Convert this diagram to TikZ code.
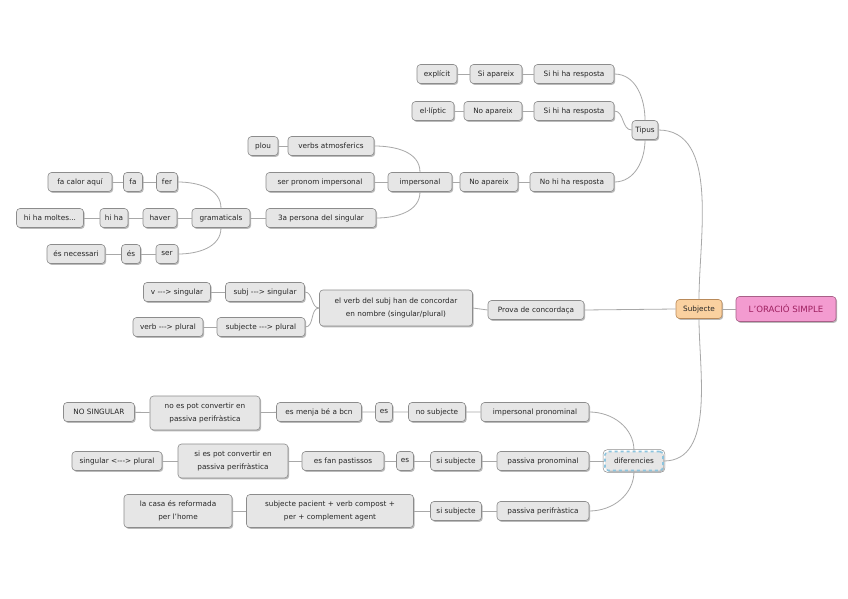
\documentclass[tikz,border=0pt]{standalone}
\usepackage{fontspec}
\setmainfont{DejaVu Sans}
\usetikzlibrary{shadows}
\definecolor{boxfill}{HTML}{E6E6E6}
\definecolor{boxline}{HTML}{8C8C8C}
\definecolor{linecol}{HTML}{A8A8A8}
\definecolor{txtcol}{HTML}{262626}
\definecolor{subjfill}{HTML}{FAD1A0}
\definecolor{subjline}{HTML}{B98A5A}
\definecolor{rootfill}{HTML}{F39BD0}
\definecolor{rootline}{HTML}{A86088}
\definecolor{roottxt}{HTML}{9E2060}
\definecolor{selblue}{HTML}{8CC4DE}
\begin{document}
\begin{tikzpicture}[x=1pt,y=1pt,
  box/.style={draw=boxline, line width=0.6pt, fill=boxfill, rounded corners=3.5pt,
    font=\fontsize{7.3}{13.5}\selectfont, text=txtcol, inner xsep=3pt, inner ysep=2pt,
    minimum height=19pt, align=center,
    drop shadow={shadow xshift=1.2pt, shadow yshift=-1.4pt, opacity=0.45, fill=black!60}},
  conn/.style={draw=linecol, line width=0.8pt}]
\useasboundingbox (0,0) rectangle (848,-599);
\fill[white] (0,0) rectangle (848,-599);

% ---- root
\node[box, fill=rootfill, draw=rootline, text=roottxt, minimum height=25pt, minimum width=100pt,
  font=\fontsize{8.6}{10}\selectfont] (root) at (786,-309) {L'ORACIÓ SIMPLE};
\node[box, fill=subjfill, draw=subjline, minimum width=46pt] (subj) at (699,-309) {Subjecte};

% ---- Tipus
\node[box, minimum width=26pt] (tipus) at (645,-130) {Tipus};
\node[box, minimum width=80pt] (sr1) at (574,-74) {Si hi ha resposta};
\node[box, minimum width=52pt] (siap) at (496,-74) {Si apareix};
\node[box, minimum width=40pt] (expl) at (437,-74) {explícit};
\node[box, minimum width=80pt] (sr2) at (574,-111) {Si hi ha resposta};
\node[box, minimum width=58pt] (noap1) at (493,-111) {No apareix};
\node[box, minimum width=42pt] (elip) at (433,-111) {el·líptic};
\node[box, minimum width=84pt] (nr) at (572,-182) {No hi ha resposta};
\node[box, minimum width=58pt] (noap2) at (489,-182) {No apareix};
\node[box, minimum width=64pt] (imp) at (420,-182) {impersonal};

\node[box, minimum width=86pt] (va) at (331,-146) {verbs atmosferics};
\node[box, minimum width=30pt] (plou) at (263,-146) {plou};
\node[box, minimum width=108pt] (spi) at (320,-182) {ser pronom impersonal};
\node[box, minimum width=110pt] (tp) at (321,-218) {3a persona del singular};
\node[box, minimum width=58pt] (gram) at (221,-218) {gramaticals};

\node[box, minimum width=21pt] (fer) at (167,-182) {fer};
\node[box, minimum width=19pt] (fa) at (133,-182) {fa};
\node[box, minimum width=64pt] (facal) at (80,-182) {fa calor aquí};
\node[box, minimum width=34pt] (haver) at (160,-218) {haver};
\node[box, minimum width=28pt] (hiha) at (114,-218) {hi ha};
\node[box, minimum width=67pt] (himol) at (50,-218) {hi ha moltes...};
\node[box, minimum width=22pt] (ser) at (167,-254) {ser};
\node[box, minimum width=19pt] (es1) at (131,-254) {és};
\node[box, minimum width=58pt] (esnec) at (76,-254) {és necessari};

% ---- Prova de concordança
\node[box, minimum width=96pt] (prova) at (536,-310) {Prova de concordaça};
\node[box, minimum width=153pt, minimum height=36pt] (elverb) at (396,-308)
  {el verb del subj han de concordar\\en nombre (singular/plural)};
\node[box, minimum width=79pt] (ssing) at (265,-292) {subj -{}-{}-> singular};
\node[box, minimum width=67pt] (vsing) at (177,-292) {v -{}-{}-> singular};
\node[box, minimum width=88pt] (spl) at (261,-327) {subjecte -{}-{}-> plural};
\node[box, minimum width=70pt] (vpl) at (168,-327) {verb -{}-{}-> plural};

% ---- diferencies
\node[box, minimum width=58pt, draw=selblue, line width=1.6pt, dashed] (dif) at (634,-461) {diferencies};
\draw[boxline, line width=0.5pt, rounded corners=4pt] (dif.south west) ++(-1pt,-1pt) rectangle ([xshift=1pt,yshift=1pt]dif.north east);

\node[box, minimum width=108pt] (ipron) at (535,-412) {impersonal pronominal};
\node[box, minimum width=57pt] (nosub) at (437,-412) {no subjecte};
\node[box, minimum width=17pt] (es2) at (384,-412) {es};
\node[box, minimum width=85pt] (menja) at (319,-412) {es menja bé a bcn};
\node[box, minimum width=110pt, minimum height=34pt] (nopot) at (205,-413) {no es pot convertir en\\passiva perifràstica};
\node[box, minimum width=71pt] (nosing) at (99,-412) {NO SINGULAR};

\node[box, minimum width=92pt] (ppron) at (543,-461) {passiva pronominal};
\node[box, minimum width=51pt] (sisub1) at (456,-461) {si subjecte};
\node[box, minimum width=17pt] (es3) at (405,-461) {es};
\node[box, minimum width=82pt] (fan) at (343,-461) {es fan pastissos};
\node[box, minimum width=110pt, minimum height=34pt] (sipot) at (233,-461) {si es pot convertir en\\passiva perifràstica};
\node[box, minimum width=90pt] (singpl) at (117,-461) {singular <-{}-{}-> plural};

\node[box, minimum width=92pt] (pperi) at (543,-511) {passiva perifràstica};
\node[box, minimum width=51pt] (sisub2) at (456,-511) {si subjecte};
\node[box, minimum width=167pt, minimum height=33pt] (spac) at (330,-511) {subjecte pacient + verb compost +\\per + complement agent};
\node[box, minimum width=108pt, minimum height=33pt] (casa) at (178,-511) {la casa és reformada\\per l'home};

% ---- connectors
\draw[conn] (root.west) -- (subj.east);
\draw[conn] (subj.west) -- (prova.east);
\draw[conn] (subj.north) to[out=90,in=0,looseness=0.9] (tipus.east);
\draw[conn] (subj.south) to[out=-90,in=0,looseness=0.9] (dif.east);

\draw[conn] (sr1.east) to[out=0,in=90] (tipus.north);
\draw[conn] (sr2.east) to[out=0,in=180] (tipus.west);
\draw[conn] (nr.east) to[out=0,in=-90] (tipus.south);
\draw[conn] (expl) -- (siap) -- (sr1);
\draw[conn] (elip) -- (noap1) -- (sr2);
\draw[conn] (imp) -- (noap2) -- (nr);

\draw[conn] (va.east) to[out=0,in=90] (imp.north);
\draw[conn] (spi.east) -- (imp.west);
\draw[conn] (tp.east) to[out=0,in=-90] (imp.south);
\draw[conn] (plou) -- (va);
\draw[conn] (gram) -- (tp);

\draw[conn] (fer.east) to[out=0,in=90] (gram.north);
\draw[conn] (haver.east) -- (gram.west);
\draw[conn] (ser.east) to[out=0,in=-90] (gram.south);
\draw[conn] (facal) -- (fa) -- (fer);
\draw[conn] (himol) -- (hiha) -- (haver);
\draw[conn] (esnec) -- (es1) -- (ser);

\draw[conn] (prova.west) -- (elverb.east);
\draw[conn] (ssing.east) to[out=0,in=180] (elverb.west);
\draw[conn] (spl.east) to[out=0,in=180] (elverb.west);
\draw[conn] (vsing) -- (ssing);
\draw[conn] (vpl) -- (spl);

\draw[conn] (ipron.east) to[out=0,in=90] (dif.north);
\draw[conn] (ppron.east) -- (dif.west);
\draw[conn] (pperi.east) to[out=0,in=-90] (dif.south);
\draw[conn] (nosing) -- (nopot) -- (menja) -- (es2) -- (nosub) -- (ipron);
\draw[conn] (singpl) -- (sipot) -- (fan) -- (es3) -- (sisub1) -- (ppron);
\draw[conn] (casa) -- (spac) -- (sisub2) -- (pperi);
\end{tikzpicture}
\end{document}
